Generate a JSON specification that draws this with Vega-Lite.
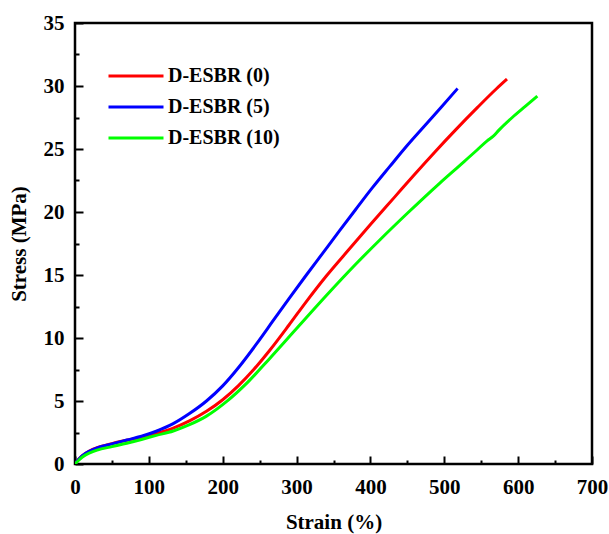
{
  "$schema": "https://vega.github.io/schema/vega-lite/v6.json",
  "width": 517,
  "height": 441,
  "autosize": {"type": "none"},
  "padding": {"left": 75, "top": 23, "right": 17, "bottom": 70},
  "background": "white",
  "config": {
    "view": {"stroke": "black", "strokeWidth": 2.5},
    "font": "Liberation Serif"
  },
  "datasets": {
    "curves": [
      {"sample": "D-ESBR (0)", "strain": 0, "stress": 0},
      {"sample": "D-ESBR (0)", "strain": 5, "stress": 0.38},
      {"sample": "D-ESBR (0)", "strain": 10, "stress": 0.66},
      {"sample": "D-ESBR (0)", "strain": 20, "stress": 1.05},
      {"sample": "D-ESBR (0)", "strain": 30, "stress": 1.3},
      {"sample": "D-ESBR (0)", "strain": 50, "stress": 1.62},
      {"sample": "D-ESBR (0)", "strain": 70, "stress": 1.88},
      {"sample": "D-ESBR (0)", "strain": 90, "stress": 2.12},
      {"sample": "D-ESBR (0)", "strain": 110, "stress": 2.42},
      {"sample": "D-ESBR (0)", "strain": 133, "stress": 2.85},
      {"sample": "D-ESBR (0)", "strain": 155, "stress": 3.42},
      {"sample": "D-ESBR (0)", "strain": 178, "stress": 4.18},
      {"sample": "D-ESBR (0)", "strain": 200, "stress": 5.1},
      {"sample": "D-ESBR (0)", "strain": 221, "stress": 6.2},
      {"sample": "D-ESBR (0)", "strain": 242, "stress": 7.5},
      {"sample": "D-ESBR (0)", "strain": 264, "stress": 9.05},
      {"sample": "D-ESBR (0)", "strain": 290, "stress": 11.05},
      {"sample": "D-ESBR (0)", "strain": 314, "stress": 12.95},
      {"sample": "D-ESBR (0)", "strain": 340, "stress": 14.9},
      {"sample": "D-ESBR (0)", "strain": 372, "stress": 17.1},
      {"sample": "D-ESBR (0)", "strain": 400, "stress": 19.0},
      {"sample": "D-ESBR (0)", "strain": 433, "stress": 21.2},
      {"sample": "D-ESBR (0)", "strain": 460, "stress": 23.0},
      {"sample": "D-ESBR (0)", "strain": 487, "stress": 24.75},
      {"sample": "D-ESBR (0)", "strain": 515, "stress": 26.5},
      {"sample": "D-ESBR (0)", "strain": 545, "stress": 28.3},
      {"sample": "D-ESBR (0)", "strain": 571, "stress": 29.8},
      {"sample": "D-ESBR (0)", "strain": 585, "stress": 30.55},
      {"sample": "D-ESBR (5)", "strain": 0, "stress": 0},
      {"sample": "D-ESBR (5)", "strain": 5, "stress": 0.38},
      {"sample": "D-ESBR (5)", "strain": 10, "stress": 0.66},
      {"sample": "D-ESBR (5)", "strain": 20, "stress": 1.03},
      {"sample": "D-ESBR (5)", "strain": 30, "stress": 1.28},
      {"sample": "D-ESBR (5)", "strain": 50, "stress": 1.6},
      {"sample": "D-ESBR (5)", "strain": 70, "stress": 1.9},
      {"sample": "D-ESBR (5)", "strain": 90, "stress": 2.2},
      {"sample": "D-ESBR (5)", "strain": 110, "stress": 2.6},
      {"sample": "D-ESBR (5)", "strain": 133, "stress": 3.2},
      {"sample": "D-ESBR (5)", "strain": 155, "stress": 4.0},
      {"sample": "D-ESBR (5)", "strain": 178, "stress": 5.0},
      {"sample": "D-ESBR (5)", "strain": 200, "stress": 6.2},
      {"sample": "D-ESBR (5)", "strain": 222, "stress": 7.7},
      {"sample": "D-ESBR (5)", "strain": 246, "stress": 9.55},
      {"sample": "D-ESBR (5)", "strain": 268, "stress": 11.35},
      {"sample": "D-ESBR (5)", "strain": 290, "stress": 13.15},
      {"sample": "D-ESBR (5)", "strain": 312, "stress": 14.9},
      {"sample": "D-ESBR (5)", "strain": 335, "stress": 16.7},
      {"sample": "D-ESBR (5)", "strain": 358, "stress": 18.5},
      {"sample": "D-ESBR (5)", "strain": 380, "stress": 20.2},
      {"sample": "D-ESBR (5)", "strain": 403, "stress": 21.95},
      {"sample": "D-ESBR (5)", "strain": 426, "stress": 23.6},
      {"sample": "D-ESBR (5)", "strain": 450, "stress": 25.3},
      {"sample": "D-ESBR (5)", "strain": 475, "stress": 26.95},
      {"sample": "D-ESBR (5)", "strain": 497, "stress": 28.4},
      {"sample": "D-ESBR (5)", "strain": 518, "stress": 29.8},
      {"sample": "D-ESBR (10)", "strain": 0, "stress": 0},
      {"sample": "D-ESBR (10)", "strain": 5, "stress": 0.3},
      {"sample": "D-ESBR (10)", "strain": 10, "stress": 0.55},
      {"sample": "D-ESBR (10)", "strain": 20, "stress": 0.88},
      {"sample": "D-ESBR (10)", "strain": 30, "stress": 1.1},
      {"sample": "D-ESBR (10)", "strain": 50, "stress": 1.38},
      {"sample": "D-ESBR (10)", "strain": 70, "stress": 1.65},
      {"sample": "D-ESBR (10)", "strain": 90, "stress": 1.95},
      {"sample": "D-ESBR (10)", "strain": 110, "stress": 2.27},
      {"sample": "D-ESBR (10)", "strain": 133, "stress": 2.62},
      {"sample": "D-ESBR (10)", "strain": 155, "stress": 3.12},
      {"sample": "D-ESBR (10)", "strain": 178, "stress": 3.8},
      {"sample": "D-ESBR (10)", "strain": 205, "stress": 4.95},
      {"sample": "D-ESBR (10)", "strain": 234, "stress": 6.5},
      {"sample": "D-ESBR (10)", "strain": 264, "stress": 8.4},
      {"sample": "D-ESBR (10)", "strain": 300, "stress": 10.75},
      {"sample": "D-ESBR (10)", "strain": 340, "stress": 13.35},
      {"sample": "D-ESBR (10)", "strain": 380, "stress": 15.85},
      {"sample": "D-ESBR (10)", "strain": 413, "stress": 17.8},
      {"sample": "D-ESBR (10)", "strain": 450, "stress": 19.9},
      {"sample": "D-ESBR (10)", "strain": 494, "stress": 22.3},
      {"sample": "D-ESBR (10)", "strain": 520, "stress": 23.65},
      {"sample": "D-ESBR (10)", "strain": 544, "stress": 24.9},
      {"sample": "D-ESBR (10)", "strain": 558, "stress": 25.65},
      {"sample": "D-ESBR (10)", "strain": 566, "stress": 26.0},
      {"sample": "D-ESBR (10)", "strain": 574, "stress": 26.5},
      {"sample": "D-ESBR (10)", "strain": 592, "stress": 27.5},
      {"sample": "D-ESBR (10)", "strain": 610, "stress": 28.4},
      {"sample": "D-ESBR (10)", "strain": 626, "stress": 29.2}
    ]
  },
  "data": {"name": "curves"},
  "resolve": {"axis": {"x": "independent", "y": "independent"}},
  "layer": [
    {
      "mark": {"type": "line", "strokeWidth": 3, "interpolate": "monotone", "clip": true},
      "encoding": {
        "x": {
          "field": "strain",
          "type": "quantitative",
          "scale": {"domain": [0, 700], "nice": false, "zero": false},
          "axis": {
            "orient": "bottom",
            "title": "Strain (%)",
            "values": [0, 100, 200, 300, 400, 500, 600, 700],
            "offset": -8,
            "domain": false,
            "labelOverlap": false,
            "labelFlush": false,
            "grid": false,
            "tickColor": "black",
            "tickWidth": 2,
            "tickSize": 8,
            "labelPadding": 12,
            "labelFont": "Liberation Serif",
            "labelFontWeight": "bold",
            "labelFontSize": 21,
            "labelColor": "black",
            "titleFont": "Liberation Serif",
            "titleFontWeight": "bold",
            "titleFontSize": 21,
            "titleColor": "black",
            "titlePadding": 14
          }
        },
        "y": {
          "field": "stress",
          "type": "quantitative",
          "scale": {"domain": [0, 35], "nice": false, "zero": false},
          "axis": {
            "orient": "left",
            "title": "Stress (MPa)",
            "values": [0, 5, 10, 15, 20, 25, 30, 35],
            "offset": -8,
            "domain": false,
            "labelOverlap": false,
            "labelFlush": false,
            "grid": false,
            "tickColor": "black",
            "tickWidth": 2,
            "tickSize": 8,
            "labelPadding": 11,
            "labelFont": "Liberation Serif",
            "labelFontWeight": "bold",
            "labelFontSize": 21,
            "labelColor": "black",
            "titleFont": "Liberation Serif",
            "titleFontWeight": "bold",
            "titleFontSize": 21,
            "titleColor": "black",
            "titlePadding": 14
          }
        },
        "color": {
          "field": "sample",
          "type": "nominal",
          "sort": ["D-ESBR (0)", "D-ESBR (5)", "D-ESBR (10)"],
          "scale": {"domain": ["D-ESBR (0)", "D-ESBR (5)", "D-ESBR (10)"], "range": ["#ff0000", "#0000ff", "#00ff00"]},
          "legend": {
            "title": null,
            "orient": "none",
            "legendX": 51,
            "legendY": 43,
            "symbolType": "M-5,0H5",
            "symbolSize": 121,
            "symbolStrokeWidth": 3,
            "rowPadding": 11,
            "labelOffset": 22,
            "labelFont": "Liberation Serif",
            "labelFontWeight": "bold",
            "labelFontSize": 20,
            "labelColor": "black"
          }
        }
      }
    },
    {
      "mark": {"type": "line", "strokeOpacity": 0, "clip": true},
      "encoding": {
        "x": {
          "field": "strain",
          "type": "quantitative",
          "axis": {
            "orient": "bottom",
            "title": null,
            "values": [50, 150, 250, 350, 450, 550, 650],
            "offset": -4,
            "labels": false,
            "domain": false,
            "grid": false,
            "tickColor": "black",
            "tickWidth": 2,
            "tickSize": 4
          }
        },
        "y": {
          "field": "stress",
          "type": "quantitative",
          "axis": {
            "orient": "left",
            "title": null,
            "values": [2.5, 7.5, 12.5, 17.5, 22.5, 27.5, 32.5],
            "offset": -4,
            "labels": false,
            "domain": false,
            "grid": false,
            "tickColor": "black",
            "tickWidth": 2,
            "tickSize": 4
          }
        },
        "detail": {"field": "sample", "type": "nominal"}
      }
    }
  ]
}
